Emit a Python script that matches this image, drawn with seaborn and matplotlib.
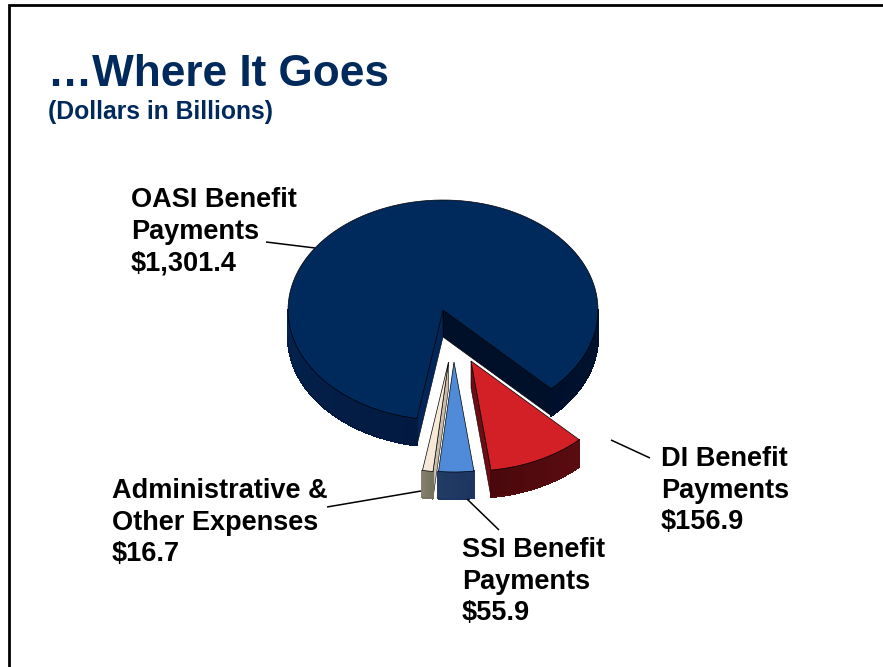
"""
3D style exploded pie: where the money goes
"""
import matplotlib
matplotlib.use("Agg")
import matplotlib.pyplot as plt
from matplotlib.collections import PolyCollection
from matplotlib.patches import Polygon
import numpy as np
import seaborn as sns

# Data, dollars in billions
categories = ["OASI Benefit\nPayments", "Administrative &\nOther Expenses", "SSI Benefit\nPayments", "DI Benefit\nPayments"]
values = [1301.4, 16.7, 55.9, 156.9]
value_labels = ["$1,301.4", "$16.7", "$55.9", "$156.9"]

TITLE = "\u2026Where It Goes"
SUBTITLE = "(Dollars in Billions)"

NAVY = "#002a5c"
START_ANGLE = -45.7
RX, RY = 155, 110
DEPTH = 27

# per slice style: apex in pixels, top colour, wall shades, radial walls shown
slice_styles = [
    dict(apex=(443, 310), top=NAVY, wall=["#04234f", "#021a40"], wrap=["#00102c", "#00122f"],
         radial={0: "#001029", 1: "#03265a"}),
    dict(apex=(448.5, 362), top="#f6e9d7", wall=["#85806f", "#77725f"], radial={1: "#c9bda9"}),
    dict(apex=(454, 362), top="#4f8bd8", wall=["#223c66", "#1d3560"], radial={}),
    dict(apex=(471, 361), top="#d32027", wall=["#4a080c", "#5a0c10"], radial={0: "#6e0d14"}),
]

sns.set_theme(style="white")
plt.rcParams["font.family"] = ["Liberation Sans", "DejaVu Sans"]

fig = plt.figure(figsize=(8.83, 6.67), dpi=100)
ax = fig.add_axes([0, 0, 1, 1])
ax.set_xlim(0, 883)
ax.set_ylim(667, 0)
ax.axis("off")


def rim(apex, a0, a1, n=120):
    t = np.radians(np.linspace(a0, a1, n))
    return np.column_stack([apex[0] + RX * np.cos(t), apex[1] - RY * np.sin(t)])


def draw_outer_wall(apex, a0, a1, colors):
    # only the front half of the rim can be seen
    a0, a1 = max(a0, 180), min(a1, 360)
    if a1 <= a0:
        return
    edge = rim(apex, a0, a1)
    strips = [[p, q, q + (0, DEPTH), p + (0, DEPTH)] for p, q in zip(edge[:-1], edge[1:])]
    shades = sns.blend_palette(colors, len(strips))
    ax.add_collection(PolyCollection(strips, facecolors=shades, edgecolors=shades,
                                     linewidths=0.8, antialiaseds=False))
    ax.plot(edge[:, 0], edge[:, 1] + DEPTH, color=shades[-1], lw=0.8)


def draw_slice(style, a0, a1):
    apex = np.array(style["apex"])
    ends = rim(apex, a0, a1, 2)
    for side, color in style["radial"].items():
        end = ends[side]
        wall = [apex, end, end + (0, DEPTH), apex + (0, DEPTH)]
        ax.add_patch(Polygon(wall, closed=True, fc=color, ec="#000000", lw=0.4))
    draw_outer_wall(apex, a0, a1, style["wall"])
    # the big slice wraps through 0 degrees
    if "wrap" in style:
        draw_outer_wall(apex, a0 + 360, a1 + 360, style["wrap"])
    top = np.vstack([apex, rim(apex, a0, a1)])
    ax.add_patch(Polygon(top, closed=True, fc=style["top"], ec="#000000", lw=0.5))


spans = np.array(values) / np.sum(values) * 360
angle = START_ANGLE
for style, span in zip(slice_styles, spans):
    draw_slice(style, angle, angle + span)
    angle += span

# leader lines
leaders = [((266, 242), (315, 248)), ((327, 507), (421, 491)), ((467, 499), (499, 530)), ((611, 440), (650, 458))]
for (x0, y0), (x1, y1) in leaders:
    ax.plot([x0, x1], [y0, y1], color="black", lw=1.1, solid_capstyle="butt")

# slide frame
ax.plot([9, 9, 883], [667, 5, 5], color="black", lw=2.0, solid_joinstyle="miter")

ax.text(48, 75, TITLE, color=NAVY, fontsize=31.8, fontweight="bold", va="center", ha="left")
ax.text(48, 112, SUBTITLE, color=NAVY, fontsize=17.8, fontweight="bold", va="center", ha="left")

label_pos = [(131, 187), (112, 478), (462, 537), (661, 446)]
for cat, val, (x, y) in zip(categories, value_labels, label_pos):
    ax.text(x, y, f"{cat}\n{val}", color="black", fontsize=19.5, fontweight="bold",
            va="top", ha="left", linespacing=1.28)

fig.savefig("out.png", dpi=100)
